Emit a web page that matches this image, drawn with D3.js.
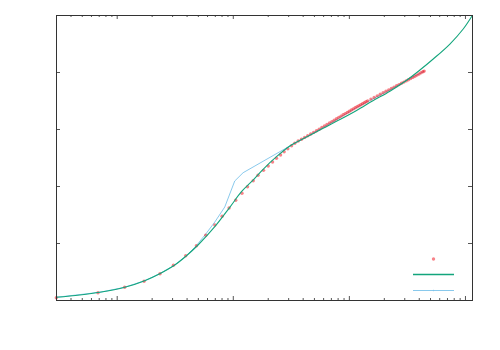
<!DOCTYPE html>
<html>
<head>
<meta charset="utf-8">
<script src="https://cdn.jsdelivr.net/npm/d3@7"></script>
<style>
  body { margin: 0; background: #fff; }
  svg { display: block; }
</style>
</head>
<body>
<div id="chart"></div>
<script>
// measured series (x on log axis, y linear)
var pointsX = [0.302, 0.69, 1.17, 1.72, 2.36, 3.08, 3.93, 4.86, 5.85, 7.0, 8.09, 9.29, 10.6, 12.0, 13.4,
  15.0, 16.5, 18.4, 20.2, 22.0, 23.8, 25.8, 27.7, 29.8, 32.1, 34.2, 36.6,
  39.1, 41.6, 44.2, 46.9, 49.7, 52.6, 55.5, 58.5, 61.6, 64.8, 68.1, 71.4, 74.8, 78.3, 81.9, 85.6, 89.3, 93.1, 97.0, 101.0,
  105.1, 109.2, 113.4, 117.7, 122.1, 126.6, 131.1, 135.7, 140.4, 145.2, 155.0, 165.1, 175.6, 186.3, 197.4, 208.8, 220.5, 232.6, 244.9, 257.6, 270.6,
  283.9, 297.6, 311.5, 325.8, 340.4, 355.3, 370.6, 386.1, 402.0, 418.2, 434.7, 445.2]
var pointsY = [0.040, 0.128, 0.223, 0.328, 0.461, 0.609, 0.777, 0.953, 1.135, 1.316, 1.468, 1.614, 1.749, 1.872, 1.988,
  2.093, 2.188, 2.275, 2.351, 2.421, 2.486, 2.544, 2.602, 2.654, 2.707, 2.749, 2.789,
  2.821, 2.853, 2.882, 2.912, 2.940, 2.968, 2.995, 3.026, 3.053, 3.079, 3.105, 3.130, 3.154, 3.179, 3.204, 3.226, 3.249, 3.270, 3.291, 3.312,
  3.333, 3.353, 3.372, 3.391, 3.409, 3.426, 3.444, 3.461, 3.477, 3.493, 3.525, 3.554, 3.582, 3.609, 3.637, 3.661, 3.686, 3.711, 3.735, 3.758, 3.779,
  3.802, 3.823, 3.844, 3.865, 3.884, 3.905, 3.926, 3.946, 3.965, 3.986, 4.004, 4.016]

var fitX = [0.3, 0.48, 0.714, 1.172, 1.743, 2.348, 3.162, 3.99, 5.02, 7.0, 9.42, 11.88, 14.96, 18.25, 23.8,
  31.0, 37.8, 60.0, 83.6, 116.5, 161, 225.6, 314.4, 409.3, 533, 742, 966, 1150]
var fitY = [0.047, 0.088, 0.135, 0.223, 0.339, 0.461, 0.614, 0.777, 0.965, 1.286, 1.626, 1.900, 2.105, 2.293, 2.514,
  2.702, 2.798, 3.012, 3.165, 3.325, 3.495, 3.663, 3.856, 4.035, 4.228, 4.491, 4.754, 4.982]

var guessX = [0.3, 0.714, 1.172, 1.743, 2.348, 3.162, 3.99, 4.86, 5.85, 7.0, 8.53, 10.4, 12.27, 31.0, 59.7, 117.2, 225.6, 322.6, 445.2]
var guessY = [0.047, 0.135, 0.223, 0.339, 0.461, 0.614, 0.777, 0.956, 1.158, 1.368, 1.632, 2.088, 2.233, 2.702, 3.026, 3.377, 3.688, 3.865, 4.012]

var majorX = [1, 10, 100, 1000]
var yTicks = [0, 1, 2, 3, 4, 5]

var W = 500, H = 350
var margin = { top: 15, right: 28, bottom: 50, left: 56 },
    width = W - margin.left - margin.right,
    height = H - margin.top - margin.bottom

var svg = d3.select("#chart")
    .append("svg")
    .attr("width", W)
    .attr("height", H)

var g = svg.append("g")
    .attr("transform", "translate(" + margin.left + "," + margin.top + ")")

var x = d3.scaleLog().domain([0.3, 1150]).range([0, width])
var y = d3.scaleLinear().domain([0, 5]).range([height, 0])

var minorX = x.ticks().filter(function (t) { return majorX.indexOf(t) < 0 })

function styleAxis(sel) {
    sel.select(".domain").remove()
    sel.selectAll(".tick line").attr("stroke", "#555").attr("stroke-width", 1)
    sel.selectAll(".tick text").remove()
}

// ticks point inward, mirrored on all four sides
g.append("g").attr("transform", "translate(0," + height + ")")
    .call(d3.axisBottom(x).tickValues(majorX).tickSize(-4).tickFormat("")).call(styleAxis)
g.append("g").attr("transform", "translate(0," + height + ")")
    .call(d3.axisBottom(x).tickValues(minorX).tickSize(-2).tickFormat("")).call(styleAxis)
g.append("g")
    .call(d3.axisTop(x).tickValues(majorX).tickSize(-4).tickFormat("")).call(styleAxis)
g.append("g")
    .call(d3.axisTop(x).tickValues(minorX).tickSize(-2).tickFormat("")).call(styleAxis)
g.append("g")
    .call(d3.axisLeft(y).tickValues(yTicks).tickSize(-4).tickFormat("")).call(styleAxis)
g.append("g").attr("transform", "translate(" + width + ",0)")
    .call(d3.axisRight(y).tickValues(yTicks).tickSize(-4).tickFormat("")).call(styleAxis)

var line = d3.line()
    .x(function (d) { return x(d[0]) })
    .y(function (d) { return y(d[1]) })

var smooth = d3.line()
    .curve(d3.curveCatmullRom.alpha(0.5))
    .x(function (d) { return x(d[0]) })
    .y(function (d) { return y(d[1]) })

var guess = d3.zip(guessX, guessY)
var fit = d3.zip(fitX, fitY)
var pts = d3.zip(pointsX, pointsY)

g.append("path")
    .datum(guess)
    .attr("fill", "none")
    .attr("stroke", "#7cc3ea")
    .attr("stroke-width", 0.9)
    .attr("d", line)

g.selectAll(".pt")
    .data(pts)
    .enter()
    .append("circle")
    .attr("class", "pt")
    .attr("cx", function (d) { return x(d[0]) })
    .attr("cy", function (d) { return y(d[1]) })
    .attr("r", 1.7)
    .attr("fill", "rgb(240,30,40)")
    .attr("fill-opacity", 0.55)

g.append("path")
    .datum(fit)
    .attr("fill", "none")
    .attr("stroke", "#13a57c")
    .attr("stroke-width", 1.1)
    .attr("d", smooth)

// frame
g.append("rect")
    .attr("x", 0.5)
    .attr("y", 0.5)
    .attr("width", width)
    .attr("height", height)
    .attr("fill", "none")
    .attr("stroke", "#333")
    .attr("stroke-width", 1)

// key (titles are empty)
var key = g.append("g").attr("transform", "translate(" + (width - 59) + "," + (height - 42) + ")")
key.append("circle").attr("cx", 20.5).attr("cy", 1).attr("r", 1.7)
    .attr("fill", "rgb(240,30,40)").attr("fill-opacity", 0.55)
key.append("line").attr("x1", 0).attr("x2", 41).attr("y1", 16.5).attr("y2", 16.5)
    .attr("stroke", "#13a57c").attr("stroke-width", 1.6)
key.append("line").attr("x1", 0).attr("x2", 41).attr("y1", 32.5).attr("y2", 32.5)
    .attr("stroke", "#7cc3ea").attr("stroke-width", 0.9)
key.append("circle").attr("cx", 20.5).attr("cy", 32.5).attr("r", 0.8).attr("fill", "#7cc3ea")
</script>
</body>
</html>
